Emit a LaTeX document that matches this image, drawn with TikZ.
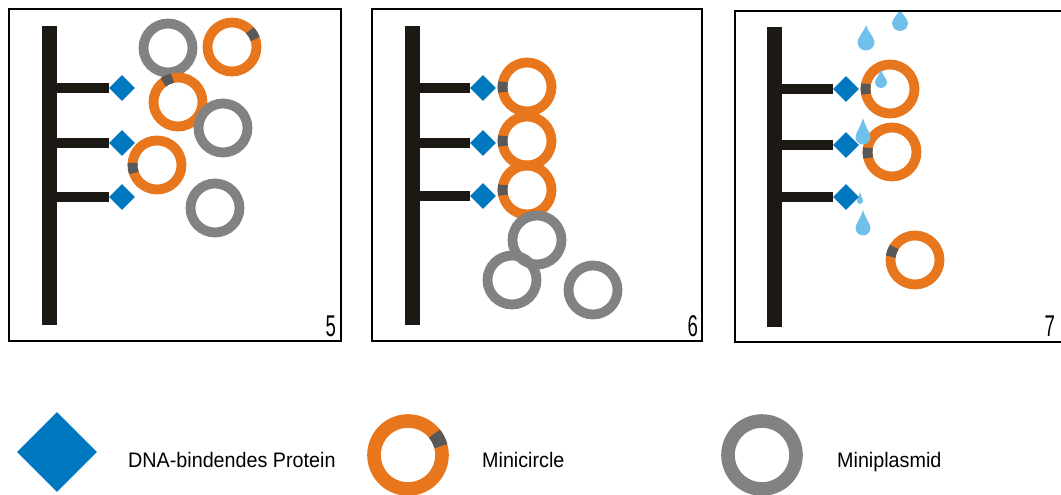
\documentclass[tikz,border=0pt]{standalone}
\usepackage{fontspec}
\setmainfont{Liberation Sans}
\usetikzlibrary{shapes.geometric}
\definecolor{ringorange}{RGB}{232,118,28}
\definecolor{plasmidgray}{RGB}{130,130,130}
\definecolor{markergray}{RGB}{88,88,88}
\definecolor{proteinblue}{RGB}{0,120,192}
\definecolor{dropblue}{RGB}{112,192,236}
\definecolor{barblack}{RGB}{28,24,20}
\tikzset {
  panel style/.style = {draw=black, line width=2.5},
  bar style/.style = {barblack, line width=15},
  arm style/.style = {barblack, line width=10},
  protein/.style = {
    diamond,
    fill=proteinblue,
    inner sep=0pt,
    minimum size=26
  },
  number style/.style = {
    font=\fontsize{30}{30}\selectfont,
    inner sep=0pt,
    xscale=0.62,
    anchor=south east
  },
  legend text/.style = {
    font=\fontsize{21}{25}\selectfont,
    inner sep=0pt,
    xscale=0.94,
    anchor=base west
  },
  pics/minicircle/.style args = {#1 #2}{
    code = {
      \draw[ringorange, line width={0.4*#1}] (0,0) circle (#1);
      \draw[markergray, line width={0.4*#1}] (#2-12:#1) arc (#2-12:#2+12:#1);
    }
  },
  pics/miniplasmid/.style = {
    code = {
      \draw[plasmidgray, line width={0.4*#1}] (0,0) circle (#1);
    }
  },
  pics/droplet/.style args = {#1 #2}{
    code = {
      \fill[dropblue] (0,#2) .. controls (0.3*#1,0.55*#2) and (#1,0.5*#1) .. (#1,0)
        arc[start angle=0, end angle=-180, radius=#1]
        .. controls (-#1,0.5*#1) and (-0.3*#1,0.55*#2) .. (0,#2) -- cycle;
    }
  }
}

\begin{document}
\begin{tikzpicture}[x=1pt, y=1pt]
\useasboundingbox (0,0) rectangle (1061,495);
\clip (0,0) rectangle (1061,495);

% --- Panel 5: mixed circles ---
\draw[bar style] (49,469) -- (49,170);

\pic at (168,447) {miniplasmid=24.5};
\pic at (232,448) {minicircle={24.5 31}};
\pic at (178,393) {minicircle={24.5 115}};
\pic at (223,367) {miniplasmid=24.5};
\pic at (157,330) {minicircle={24.5 187}};
\pic at (215,287) {miniplasmid=24.5};

\foreach \y [count=\i] in {407,352,298} {
  \coordinate (b5-\i) at (49,\y);
  \node[protein] (p5-\i) at (122,\y) {};
  \draw[arm style] (b5-\i) -- (p5-\i);
}
\node[number style] (n5) at (336,158) {5};

% --- Panel 6: minicircles bound ---
\draw[bar style] (412.5,469) -- (412.5,170);

\pic at (527,408) {minicircle={24.5 180}};
\pic at (527,354) {minicircle={24.5 180}};
\pic at (527,305) {minicircle={24.5 180}};
\pic at (537,255) {miniplasmid=24.5};
\pic at (512,215) {miniplasmid=24.5};
\pic at (593,205) {miniplasmid=24.5};

\foreach \y [count=\i] in {407,352,299} {
  \coordinate (b6-\i) at (412.5,\y);
  \node[protein] (p6-\i) at (483,\y) {};
  \draw[arm style] (b6-\i) -- (p6-\i);
}
\node[number style] (n6) at (698,158) {6};

% --- Panel 7: elution ---
\draw[bar style] (774.5,468) -- (774.5,168);

\pic at (890,406) {minicircle={24.5 180}};
\pic at (892,343) {minicircle={24.5 182}};
\pic at (915,235) {minicircle={24.5 160}};

\pic at (900,472) {droplet={8 14}};
\pic at (866,453) {droplet={8.5 17}};
\pic at (881,413) {droplet={6 12}};
\pic at (863,358) {droplet={7.5 19}};
\pic at (860,294) {droplet={3 9}};
\pic at (863,267) {droplet={7.5 18}};

\foreach \y [count=\i] in {406,350,298} {
  \coordinate (b7-\i) at (774.5,\y);
  \node[protein] (p7-\i) at (846,\y) {};
  \draw[arm style] (b7-\i) -- (p7-\i);
}
\node[number style] (n7) at (1055,158) {7};

% --- Frames ---
\draw[panel style] (9,154) rectangle (341,486);
\draw[panel style] (372,154) rectangle (702,486);
\draw[panel style] (735,153) rectangle (1075,484);

% --- Legend ---
\node[protein, minimum size=80] (lp) at (57,43) {};
\node[legend text] (lt1) at (128,27) {DNA-bindendes Protein};
\pic at (408,40) {minicircle={34 27}};
\node[legend text] (lt2) at (482,27) {Minicircle};
\pic at (762,40) {miniplasmid=34};
\node[legend text] (lt3) at (837,27) {Miniplasmid};

\end{tikzpicture}
\end{document}
